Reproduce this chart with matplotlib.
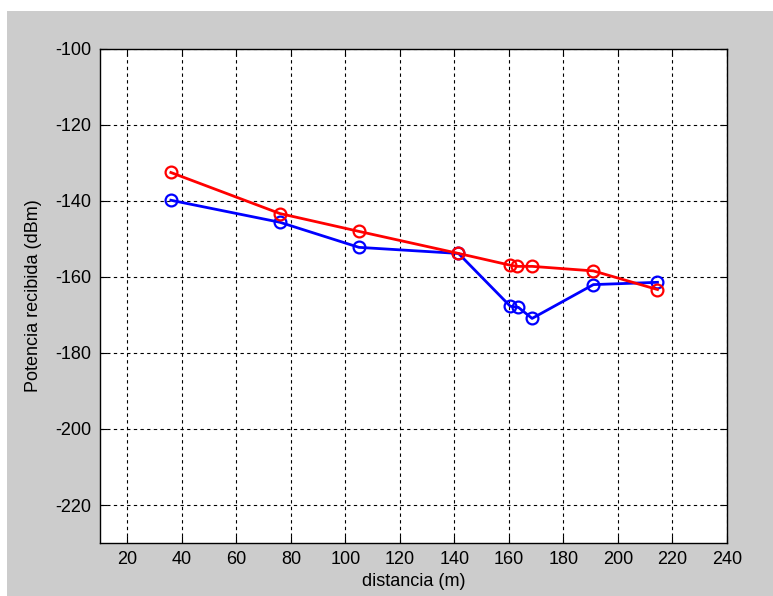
import matplotlib.pyplot as plt
from matplotlib.patches import Rectangle

# distancias (m) y potencia recibida (dBm)
dist_roja = [36, 76, 105, 141.5, 160.5, 163, 168.5, 191, 214.5]
pot_roja = [-132.5, -143.3, -148, -153.8, -156.9, -157.2, -157.2, -158.4, -163.3]

dist_azul = [36, 76, 105, 141.5, 160.5, 163.5, 168.5, 191, 214.5]
pot_azul = [-139.8, -145.6, -152.2, -153.8, -167.7, -168, -170.9, -162, -161.4]

xticks = list(range(20, 241, 20))
yticks = list(range(-220, -99, 20))

plt.rcParams['font.family'] = ['Liberation Sans Narrow', 'Liberation Sans', 'DejaVu Sans']
plt.rcParams['axes.unicode_minus'] = False

fig = plt.figure(figsize=(7.73, 5.96), dpi=100, facecolor='white')
# fondo gris de la ventana
fig.patches.append(Rectangle((7 / 773, 0), 1, 1 - 11 / 596, transform=fig.transFigure,
                             facecolor='#cccccc', edgecolor='none', zorder=-10))

ax = fig.add_axes([100 / 773, 53 / 596, 627 / 773, 494 / 596])
ax.plot(dist_azul, pot_azul, '-o', color='#0000ff', lw=2, ms=8.5,
        mfc='none', mew=1.6)
ax.plot(dist_roja, pot_roja, '-o', color='#ff0000', lw=2, ms=8.5,
        mfc='none', mew=1.6)

ax.set_xlim(10, 240)
ax.set_ylim(-230, -100)
ax.set_xticks(xticks)
ax.set_yticks(yticks)
ax.grid(True, color='black', linestyle=(0, (3, 3)), linewidth=0.8)
ax.set_axisbelow(True)
ax.tick_params(direction='in', top=True, right=True, labelsize=13, length=5, pad=6)
for s in ax.spines.values():
    s.set_linewidth(1.0)

ax.set_xlabel('distancia (m)', fontsize=13, labelpad=3)
ax.set_ylabel('Potencia recibida (dBm)', fontsize=13, labelpad=10)

fig.savefig('out.png', dpi=100, facecolor=fig.get_facecolor())
